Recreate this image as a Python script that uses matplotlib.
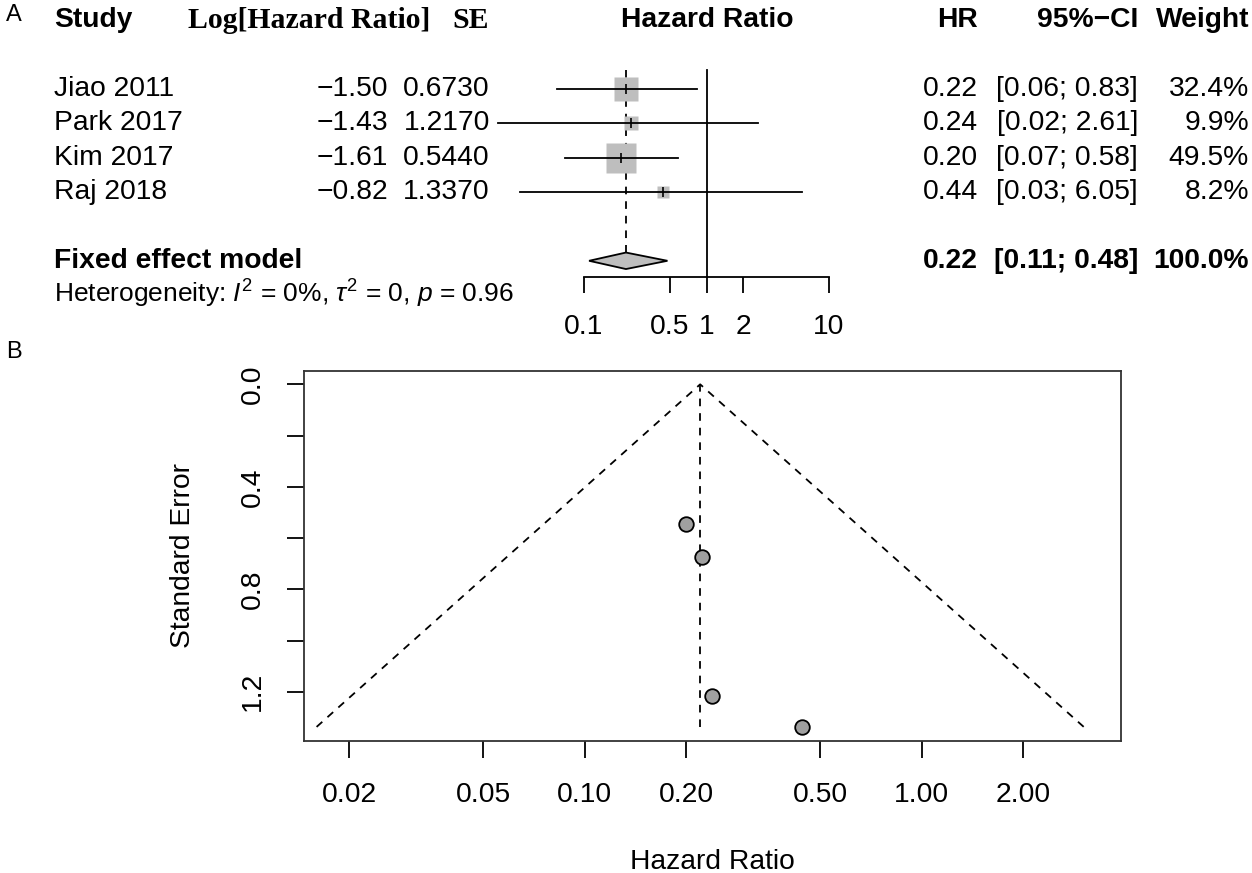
import numpy as np
import matplotlib
matplotlib.use("Agg")
import matplotlib.pyplot as plt
import matplotlib.transforms as mtransforms

plt.rcParams['font.family'] = ['Liberation Sans', 'DejaVu Sans']
plt.rcParams['mathtext.fontset'] = 'custom'
plt.rcParams['mathtext.rm'] = 'Liberation Sans'
plt.rcParams['mathtext.it'] = 'Liberation Sans:italic'
plt.rcParams['lines.scale_dashes'] = False

# ==========================================
# DATA
# ==========================================
studies = ["Jiao 2011", "Park 2017", "Kim 2017", "Raj 2018"]
log_hr = [-1.50, -1.43, -1.61, -0.82]
se = [0.6730, 1.2170, 0.5440, 1.3370]
hr = [0.22, 0.24, 0.20, 0.44]
ci_lo = [0.06, 0.02, 0.07, 0.03]
ci_hi = [0.83, 2.61, 0.58, 6.05]
weight = [32.4, 9.9, 49.5, 8.2]

pooled_hr = 0.22
pooled_lo = 0.11
pooled_hi = 0.48
pooled_weight = 100.0
het_text = r"Heterogeneity: $\mathit{I}^2$ = 0%, $\tau^2$ = 0, $\mathit{p}$ = 0.96"

forest_ticks = [0.1, 0.5, 1, 2, 10]
funnel_xticks = [0.02, 0.05, 0.10, 0.20, 0.50, 1.00, 2.00]
funnel_yticks = [0.0, 0.2, 0.4, 0.6, 0.8, 1.0, 1.2]
funnel_ylabels = ["0.0", "", "0.4", "", "0.8", "", "1.2"]

# ==========================================
# FIGURE
# ==========================================
W, H = 1252, 873
fig = plt.figure(figsize=(W / 100, H / 100), dpi=100)
FS = 20.3
GRAY = "#BEBEBE"
DASH = (0, (5.5, 5))

def fx(px):
    return px / W

def fy(py):
    return 1 - py / H

# ---------- Panel A : forest plot ----------
row_px = 34.4
top_px = 20
axA = fig.add_axes([fx(584), fy(340), fx(829) - fx(584), 340 / H])
axA.set_xscale('log')
axA.set_xlim(0.1, 10)
axA.set_ylim((340 - top_px) / row_px, -top_px / row_px)
for s in ['left', 'right', 'top']:
    axA.spines[s].set_visible(False)
axA.spines['bottom'].set_position(('data', 7.47))
axA.spines['bottom'].set_linewidth(1.3)
axA.set_yticks([])
axA.set_xticks(forest_ticks)
axA.set_xticklabels([f"{t:g}" for t in forest_ticks], fontsize=FS)
axA.xaxis.set_minor_locator(matplotlib.ticker.NullLocator())
axA.tick_params(axis='x', direction='out', length=11.5, width=1.3, pad=15)
axA.patch.set_alpha(0)

rows = np.arange(len(studies)) + 2
pooled_row = 7

# reference lines
axA.plot([1, 1], [1.45, 7.47], color='black', lw=1.3, clip_on=False)
axA.plot([pooled_hr, pooled_hr], [1.45, pooled_row - 0.25], color='black',
         lw=1.3, linestyle=DASH, clip_on=False)

for i, r in enumerate(rows):
    axA.plot([ci_lo[i], ci_hi[i]], [r, r], color='black', lw=1.3, clip_on=False, zorder=3)
    axA.plot(hr[i], r, marker='s', ms=3.1 * np.sqrt(weight[i]), color=GRAY,
             mec='none', zorder=2, clip_on=False)
    axA.plot(hr[i], r, marker='|', ms=7, color='black', mew=1.2, zorder=4, clip_on=False)

# diamond
dx = [pooled_lo, pooled_hr, pooled_hi, pooled_hr, pooled_lo]
dy = [pooled_row, pooled_row - 0.24, pooled_row, pooled_row + 0.24, pooled_row]
axA.fill(dx, dy, facecolor=GRAY, edgecolor='black', lw=1.3, clip_on=False, zorder=3)

tA = mtransforms.blended_transform_factory(fig.transFigure, axA.transData)

# headers
axA.text(fx(54), 0, "Study", transform=tA, fontsize=FS, fontweight='bold', va='center')
axA.text(fx(188), 0, "Log[Hazard Ratio]", transform=tA, fontsize=21.4,
         fontweight='bold', family='Liberation Serif', va='center')
axA.text(fx(452), 0, "SE", transform=tA, fontsize=21.4, fontweight='bold',
         family='Liberation Serif', va='center')
axA.text(fx(707), 0, "Hazard Ratio", transform=tA, fontsize=FS, fontweight='bold',
         va='center', ha='center')
axA.text(fx(978), 0, "HR", transform=tA, fontsize=FS, fontweight='bold', va='center', ha='right')
axA.text(fx(1138), 0, "95%\u2212CI", transform=tA, fontsize=FS, fontweight='bold',
         va='center', ha='right')
axA.text(fx(1249), 0, "Weight", transform=tA, fontsize=FS, fontweight='bold',
         va='center', ha='right')

for i, r in enumerate(rows):
    axA.text(fx(54), r, studies[i], transform=tA, fontsize=FS, va='center')
    axA.text(fx(388), r, f"{log_hr[i]:.2f}".replace('-', '\u2212'), transform=tA,
             fontsize=FS, va='center', ha='right')
    axA.text(fx(490), r, f"{se[i]:.4f}", transform=tA, fontsize=FS, va='center', ha='right')
    axA.text(fx(978), r, f"{hr[i]:.2f}", transform=tA, fontsize=FS, va='center', ha='right')
    axA.text(fx(1138), r, f"[{ci_lo[i]:.2f}; {ci_hi[i]:.2f}]", transform=tA,
             fontsize=FS, va='center', ha='right')
    axA.text(fx(1249), r, f"{weight[i]:.1f}%", transform=tA, fontsize=FS,
             va='center', ha='right')

axA.text(fx(54), pooled_row, "Fixed effect model", transform=tA, fontsize=FS,
         fontweight='bold', va='center')
axA.text(fx(978), pooled_row, f"{pooled_hr:.2f}", transform=tA, fontsize=FS,
         fontweight='bold', va='center', ha='right')
axA.text(fx(1138), pooled_row, f"[{pooled_lo:.2f}; {pooled_hi:.2f}]", transform=tA,
         fontsize=FS, fontweight='bold', va='center', ha='right')
axA.text(fx(1249), pooled_row, f"{pooled_weight:.1f}%", transform=tA, fontsize=FS,
         fontweight='bold', va='center', ha='right')
axA.text(fx(54), 7.95, het_text, transform=tA, fontsize=19, va='center')

fig.text(fx(6), fy(15), "A", fontsize=17, va='center')
fig.text(fx(6), fy(352), "B", fontsize=17, va='center')

# ---------- Panel B : funnel plot ----------
axB = fig.add_axes([fx(304), fy(741), fx(1121) - fx(304), (741 - 371) / H])
axB.set_xscale('log')
axB.set_xlim(10 ** -1.833, 10 ** 0.591)
axB.set_ylim(1.392, -0.052)

se_max = max(se)
pooled_log = np.log(pooled_hr)
tri_x = np.exp([pooled_log - 1.96 * se_max, pooled_log, pooled_log + 1.96 * se_max])
tri_y = [se_max, 0, se_max]
axB.plot(tri_x, tri_y, color='black', lw=1.3, linestyle=DASH)
axB.plot([np.exp(pooled_log), np.exp(pooled_log)], [0, se_max], color='black',
         lw=1.3, linestyle=DASH)
axB.plot(np.exp(log_hr), se, 'o', ms=10.5, mfc='#A0A0A0', mec='black', mew=1.3, ls='none')

axB.set_xticks(funnel_xticks)
axB.set_xticklabels([f"{t:.2f}" for t in funnel_xticks], fontsize=FS)
axB.xaxis.set_minor_locator(matplotlib.ticker.NullLocator())
axB.set_yticks(funnel_yticks)
axB.set_yticklabels(funnel_ylabels, fontsize=FS, rotation=90, va='center')
axB.tick_params(direction='out', length=12.5, width=1.3)
axB.tick_params(axis='x', pad=17)
axB.tick_params(axis='y', pad=15)
for s in axB.spines.values():
    s.set_linewidth(1.3)
    s.set_color('#333333')

fig.text(fx(712), fy(862), "Hazard Ratio", fontsize=FS, ha='center', va='center')
fig.text(fx(183), fy(555), "Standard Error", fontsize=FS, ha='center', va='center',
         rotation=90)

fig.savefig("out.png", dpi=100)
